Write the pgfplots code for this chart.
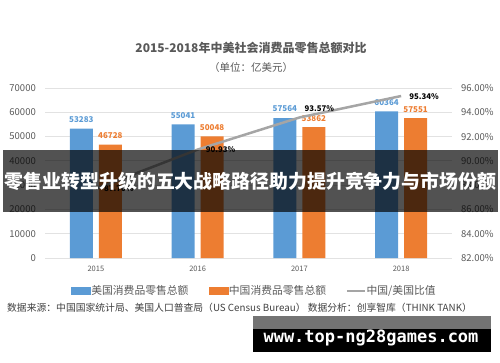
\documentclass[border=0pt]{standalone}
\usepackage{fontspec}
\setmainfont{Noto Sans CJK SC}
\newfontfamily\wmfont{DejaVu Sans Mono}
\usepackage{pgfplots}
\usepackage{pgfplotstable}
\pgfplotsset{compat=1.18}
\definecolor{cblue}{HTML}{5B9BD5}
\definecolor{corange}{HTML}{ED7D31}
\definecolor{cgray}{HTML}{A5A5A5}
\definecolor{ctext}{HTML}{595959}
\definecolor{cgrid}{HTML}{E2E2E2}

\pgfplotstableread{
x usa china
0 53283 46728
1 55041 50048
2 57564 53862
3 60364 57551
}\sales

\pgfplotstableread{
x ratio dx dy
0 87.70 7 0
1 90.93 7 0
2 93.57 4 8.5
3 95.34 7 -0.5
}\ratio

\begin{document}
\begin{tikzpicture}
\path[use as bounding box] (0pt,0pt) rectangle (500pt,362pt);

\begin{axis}[
  at={(45pt,104pt)}, anchor=south west, scale only axis,
  width=407pt, height=170pt,
  xmin=-0.5, xmax=3.5, ymin=0, ymax=70000,
  ybar=6pt, bar width=23pt,
  xtick={0,1,2,3}, xticklabels={2015,2016,2017,2018},
  ytick={0,10000,20000,30000,40000,50000,60000,70000},
  ymajorgrids, grid style={cgrid, line width=0.9pt},
  axis line style={draw=none}, major tick length=0pt,
  scaled y ticks=false,
  /pgf/number format/.cd, 1000 sep={}, assume math mode=true, /pgfplots/.cd,
  yticklabel style={font=\fontsize{9.5}{10}\selectfont, text=ctext, anchor=east, inner sep=0pt, xshift=-9pt},
  xticklabel style={font=\fontsize{7.5}{8}\selectfont, text=ctext, anchor=north, inner sep=0pt, yshift=-8pt},
  nodes near coords,
  nodes near coords style={font=\fontsize{8}{8}\selectfont\bfseries, inner sep=0pt, yshift=6pt},
]
\addplot[fill=cblue, draw=none, every node near coord/.append style={text=cblue}] table[x=x,y=usa]{\sales};
\addplot[fill=corange, draw=none, every node near coord/.append style={text=corange, yshift=-0.5pt}] table[x=x,y=china]{\sales};
\end{axis}

\begin{axis}[
  at={(45pt,104pt)}, anchor=south west, scale only axis,
  width=407pt, height=170pt,
  xmin=-0.5, xmax=3.5, ymin=82, ymax=96,
  ytick={82,84,86,88,90,92,94,96},
  axis y line*=right, hide x axis,
  axis line style={draw=none}, major tick length=0pt,
  yticklabel={\pgfmathprintnumber[assume math mode=true,fixed,fixed zerofill,precision=2]{\tick}\%},
  yticklabel style={font=\fontsize{9.5}{10}\selectfont, text=ctext, anchor=west, inner sep=0pt, xshift=9pt},
  legend style={at={(0.513,-0.194)}, anchor=center, draw=none, fill=none,
    legend columns=3, font=\fontsize{10.8}{11}\selectfont, text=ctext,
    /tikz/every even column/.append style={column sep=19pt},
    inner sep=0pt, nodes={inner sep=1pt}},
]
\addlegendimage{legend image code/.code={\fill[cblue] (0pt,-3.5pt) rectangle (19pt,3.5pt);}}
\addlegendentry{美国消费品零售总额}
\addlegendimage{legend image code/.code={\fill[corange] (0pt,-3.5pt) rectangle (19pt,3.5pt);}}
\addlegendentry{中国消费品零售总额}
\addplot[cgray, line width=2.5pt, mark=none,
  legend image code/.code={\draw[cgray, line width=1.5pt] (0pt,0pt) -- (18pt,0pt);},
  point meta=y,
  visualization depends on=\thisrow{dx}\as\dx,
  visualization depends on=\thisrow{dy}\as\dy,
  nodes near coords={\pgfmathprintnumber[assume math mode=true,fixed,fixed zerofill,precision=2]{\pgfplotspointmeta}\%},
  nodes near coords style={font=\fontsize{7.8}{8}\selectfont\bfseries, text=black, anchor=west, inner sep=0pt, xshift=\dx, yshift=\dy},
] table[x=x,y=ratio]{\ratio};
\addlegendentry{中国/美国比值}
\end{axis}

% title
\node[font=\fontsize{12}{12}\selectfont\bfseries, text=ctext] at (251pt,314pt) {2015-2018年中美社会消费品零售总额对比};
\node[font=\fontsize{10.5}{10.5}\selectfont, text=ctext] at (251pt,294pt) {（单位：亿美元）};

% source
\node[font=\fontsize{9.8}{9.8}\selectfont, text=black!75, anchor=west, inner sep=0pt] at (7pt,54pt) {数据来源：中国国家统计局、美国人口普查局（US Census Bureau） 数据分析：创享智库（THINK TANK）};

% overlay banner
\fill[black, opacity=0.68] (3pt,150pt) rectangle (498pt,212pt);
\node[font=\fontsize{18.9}{19}\selectfont\bfseries, text=white] at (250.5pt,181pt) {零售业转型升级的五大战略路径助力提升竞争力与市场份额};

% watermark
\fill[black, opacity=0.55] (253pt,33pt) rectangle (491pt,46pt);
\fill[black] (253pt,10pt) rectangle (491pt,33pt);
\node[font=\wmfont\fontsize{17}{17}\selectfont\bfseries, text=white] at (371pt,24pt) {www.top-ng28games.com};
\end{tikzpicture}
\end{document}
